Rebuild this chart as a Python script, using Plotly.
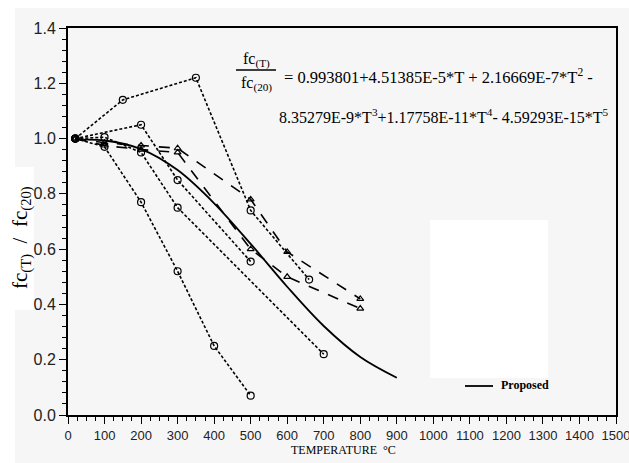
import plotly.graph_objects as go

# ---------------- data ----------------
# dotted series with open circles
tA = [20, 150, 350, 500, 660]
vA = [1.00, 1.14, 1.22, 0.74, 0.49]
tB = [20, 200, 300, 500]
vB = [1.00, 1.05, 0.85, 0.555]
tC = [20, 100, 200, 300, 700]
vC = [1.00, 1.005, 0.95, 0.75, 0.22]
tD = [20, 100, 200, 300, 400, 500]
vD = [1.00, 0.97, 0.77, 0.52, 0.25, 0.07]
# dashed series with open triangles
tE = [20, 100, 200, 300, 500, 600, 800]
vE = [1.00, 0.985, 0.975, 0.965, 0.78, 0.59, 0.42]
tF = [20, 100, 200, 300, 500, 600, 800]
vF = [1.00, 0.975, 0.96, 0.95, 0.60, 0.50, 0.385]
# proposed curve (solid)
tP = [20, 100, 200, 300, 400, 500, 600, 700, 800, 900]
vP = [0.995, 0.993, 0.962, 0.886, 0.766, 0.619, 0.464, 0.322, 0.210, 0.135]

x_ticks = list(range(0, 1501, 100))
y_ticks = [0.0, 0.2, 0.4, 0.6, 0.8, 1.0, 1.2, 1.4]

# ---------------- layout helpers ----------------
W, H = 629, 463
L, R, T, B = 68, 616, 28, 415


def px(x):
    return (x - L) / (R - L)


def py(y):
    return (B - y) / (B - T)


fig = go.Figure()

dot = dict(color="black", width=1.6, dash="3px,2px")
dash = dict(color="black", width=1.6, dash="11px,10px")
circ = dict(symbol="circle-open", size=7, color="black", line=dict(width=1.2))
tri = dict(symbol="triangle-up-open", size=6, color="black", line=dict(width=1.2))

for t, v in [(tA, vA), (tB, vB), (tC, vC), (tD, vD)]:
    fig.add_trace(go.Scatter(x=t, y=v, mode="lines+markers", line=dot,
                             marker=circ, showlegend=False))
for t, v in [(tE, vE), (tF, vF)]:
    fig.add_trace(go.Scatter(x=t, y=v, mode="lines+markers", line=dash,
                             marker=tri, showlegend=False))
fig.add_trace(go.Scatter(x=tP, y=vP, mode="lines", line_shape="spline",
                         line=dict(color="black", width=1.8),
                         name="Proposed", showlegend=False))

tickfont = dict(family="Liberation Sans, Arial", size=13, color="#222")

fig.update_xaxes(range=[0, 1500], tickvals=x_ticks, ticktext=[str(v) for v in x_ticks],
                 ticks="outside", ticklen=7, tickwidth=1.3, tickcolor="black",
                 minor=dict(dtick=25, ticks="outside", ticklen=4, tickcolor="black", tickwidth=1),
                 showline=True, linecolor="black", linewidth=2, mirror=True,
                 showgrid=False, zeroline=False, tickfont=tickfont,
                 ticklabeloverflow="allow", automargin=False)
fig.update_yaxes(range=[0, 1.4], tickvals=y_ticks, ticktext=[f"{v:.1f}" for v in y_ticks],
                 ticks="outside", ticklen=7, tickwidth=1.3, tickcolor="black",
                 minor=dict(dtick=0.04, ticks="outside", ticklen=4, tickcolor="black", tickwidth=1),
                 showline=True, linecolor="black", linewidth=2, mirror=True,
                 showgrid=False, zeroline=False, tickfont=dict(tickfont, size=16),
                 automargin=False)

shapes = [
    # scanned page background
    dict(type="rect", xref="paper", yref="paper", x0=px(15), x1=px(W), y0=py(H), y1=py(8),
         fillcolor="#f6f6f6", line_width=0, layer="below"),
    dict(type="rect", xref="paper", yref="paper", x0=px(0), x1=px(34), y0=py(310), y1=py(167),
         fillcolor="white", line_width=0, layer="below"),
    dict(type="rect", xref="paper", yref="paper", x0=px(430), x1=px(548), y0=py(378), y1=py(220),
         fillcolor="white", line_width=0, layer="below"),
    # fraction bar of the equation
    dict(type="line", xref="paper", yref="paper", x0=px(236), x1=px(276), y0=py(70), y1=py(70),
         line=dict(color="black", width=1.3)),
    # legend sample
    dict(type="line", xref="paper", yref="paper", x0=px(465), x1=px(493), y0=py(386), y1=py(386),
         line=dict(color="black", width=1.8)),
]

serif = "Liberation Serif, Times New Roman, serif"


def note(text, x, y, size, xanchor="center", **kw):
    return dict(text=text, x=px(x), y=py(y), xref="paper", yref="paper",
                xanchor=xanchor, yanchor="middle", showarrow=False,
                font=dict(family=serif, size=size, color="black"), **kw)


ann = [
    note("fc<sub>(T)</sub>", 256, 60, 16),
    note("fc<sub>(20)</sub>", 256, 84, 16),
    note("= 0.993801+4.51385E-5*T + 2.16669E-7*T<sup>2</sup> -", 282, 76, 16.5, xanchor="left"),
    note("8.35279E-9*T<sup>3</sup>+1.17758E-11*T<sup>4</sup>- 4.59293E-15*T<sup>5</sup>",
         277, 116, 16, xanchor="left"),
    note("<b>Proposed</b>", 499, 385, 12, xanchor="left"),
    note("TEMPERATURE  °C", 343, 450, 12),
    note("fc<sub>(T)</sub>  /  fc<sub>(20)</sub>", 21, 238, 21, textangle=-90),
]

fig.update_layout(width=W, height=H, margin=dict(l=L, r=W - R, t=T, b=H - B),
                  paper_bgcolor="white", plot_bgcolor="rgba(0,0,0,0)",
                  shapes=shapes, annotations=ann, showlegend=False)

fig.write_html("out.html")
